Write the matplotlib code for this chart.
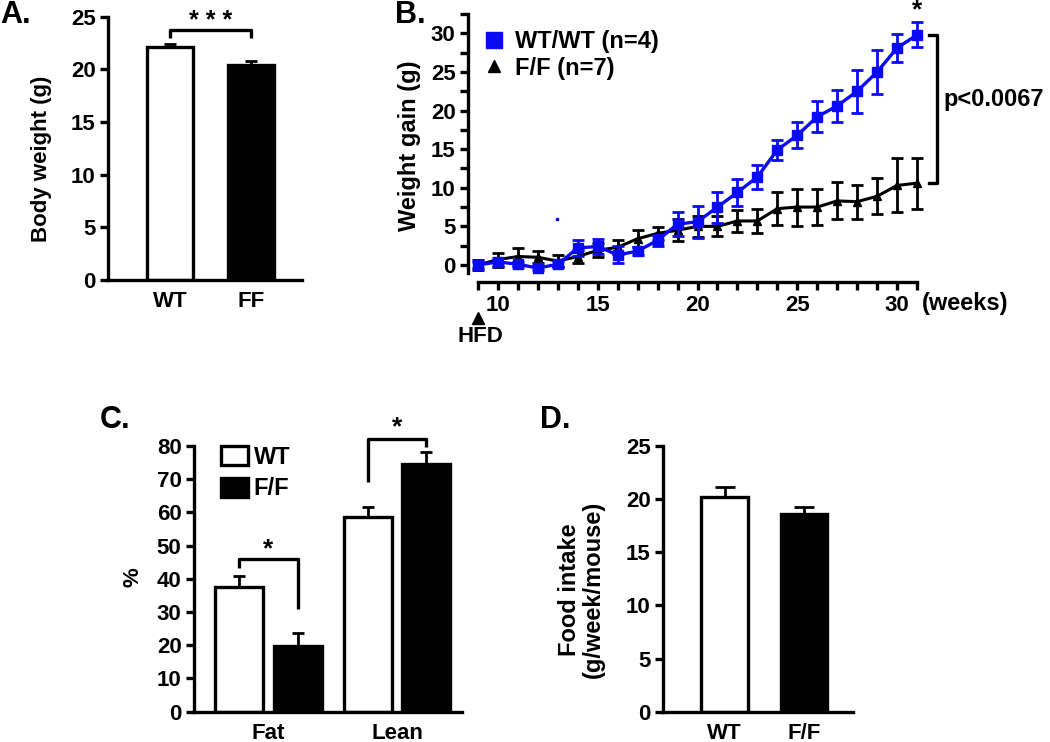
import numpy as np
import matplotlib
matplotlib.use("Agg")
import matplotlib.pyplot as plt
from matplotlib.lines import Line2D
from matplotlib.patches import Patch

plt.rcParams['font.family'] = ['Liberation Sans', 'DejaVu Sans']
plt.rcParams['font.weight'] = 'bold'
plt.rcParams['axes.labelweight'] = 'bold'

# ---- A: body weight ----
a_groups = ['WT', 'FF']
a_mean = [22.1, 20.4]
a_err = [0.3, 0.35]

# ---- B: weight gain over time ----
weeks = np.arange(9, 32)
wt_gain = [0.0, 0.4, 0.1, -0.4, 0.1, 2.2, 2.4, 1.3, 1.8, 3.2, 5.3, 5.6,
           7.5, 9.4, 11.4, 14.9, 16.8, 19.2, 20.6, 22.5, 25.0, 28.1, 29.8]
wt_gain_err = [0.4, 0.5, 0.3, 0.3, 0.4, 1.0, 1.0, 1.1, 0.5, 0.7, 1.6, 2.1,
               2.0, 1.7, 1.6, 1.25, 1.7, 2.0, 2.1, 2.8, 2.9, 1.8, 1.6]
ff_gain = [0.0, 0.7, 1.1, 1.0, 0.5, 1.1, 1.9, 2.3, 3.4, 4.1, 4.5, 5.0,
           5.0, 5.7, 5.7, 7.3, 7.5, 7.5, 8.3, 8.2, 8.9, 10.3, 10.6]
ff_gain_err = [0.6, 0.9, 1.1, 0.75, 0.75, 0.85, 0.9, 0.9, 1.1, 0.8, 1.4, 1.4,
               1.3, 1.4, 1.6, 2.1, 2.4, 2.3, 2.4, 2.2, 2.3, 3.5, 3.3]

# ---- C: body composition ----
c_cats = ['Fat', 'Lean']
c_wt = [37.5, 58.7]
c_wt_err = [3.4, 2.9]
c_ff = [19.8, 74.6]
c_ff_err = [4.0, 3.5]

# ---- D: food intake ----
d_groups = ['WT', 'F/F']
d_mean = [20.2, 18.6]
d_err = [0.9, 0.7]

W, H = 1050, 742
BLUE = '#0a0af5'
fig = plt.figure(figsize=(W / 100, H / 100), dpi=100)


def box(x0, y0, x1, y1):
    # pixel box -> figure fraction [left, bottom, width, height]
    return [x0 / W, 1 - y1 / H, (x1 - x0) / W, (y1 - y0) / H]


def style(ax, fs):
    for s in ['top', 'right']:
        ax.spines[s].set_visible(False)
    for s in ['left', 'bottom']:
        ax.spines[s].set_linewidth(2.4)
    ax.tick_params(axis='y', width=2.4, length=6, labelsize=fs, pad=3)
    for lab in ax.get_yticklabels() + ax.get_xticklabels():
        lab.set_fontweight('bold')


def bracket(ax, x0, x1, ytop, yl, yr, lw=2.4):
    ax.plot([x0, x0, x1, x1], [yl, ytop, ytop, yr], color='black', lw=lw,
            clip_on=False, solid_capstyle='butt')


# ---------------- Panel A ----------------
axA = fig.add_axes(box(108, 16.7, 302, 280))
xa = np.arange(len(a_groups))
axA.bar(xa, a_mean, width=0.56, color=['white', 'black'], edgecolor='black',
        linewidth=2.4, yerr=[[0, 0], a_err], capsize=4,
        error_kw=dict(elinewidth=2, capthick=2, ecolor='black'))
axA.set_xlim(-0.765, 1.63)
axA.set_ylim(0, 25)
axA.set_yticks(np.arange(0, 26, 5))
axA.set_xticks(xa, a_groups)
style(axA, 16)
axA.tick_params(axis='x', length=0, labelsize=16, pad=8)
axA.set_ylabel('Body weight (g)', fontsize=16)
axA.yaxis.set_label_coords(-0.29, 0.46)
bracket(axA, 0, 1, 23.7, 23.0, 23.0)
axA.text(0.5, 24.6, '* * *', ha='center', va='center', fontsize=18)

# ---------------- Panel B ----------------
axB = fig.add_axes(box(468, 14, 927, 281.6))
axB.errorbar(weeks, ff_gain, yerr=ff_gain_err, color='black', marker='^',
             ms=6, lw=2.2, elinewidth=2, capsize=4, capthick=2, zorder=3)
axB.errorbar(weeks, wt_gain, yerr=wt_gain_err, color=BLUE, marker='s',
             ms=7, lw=2.4, elinewidth=2, capsize=4, capthick=2, zorder=4)
axB.set_xlim(8.5, 31.5)
axB.set_ylim(-2.15, 32.5)
axB.spines['left'].set_bounds(-1.1, 32.5)
axB.spines['bottom'].set_bounds(9, 31)
axB.set_yticks(np.arange(0, 31, 5))
axB.set_yticks(np.arange(0, 32.6, 2.5), minor=True)
axB.set_xticks(np.arange(10, 31, 5))
axB.set_xticks(np.arange(9, 32, 1), minor=True)
style(axB, 16)
axB.tick_params(axis='y', which='minor', width=2.4, length=6)
axB.tick_params(axis='x', which='both', width=2.4, length=6, labelsize=16, pad=4)
for lab in axB.get_xticklabels():
    lab.set_fontweight('bold')
axB.set_ylabel('Weight gain (g)', fontsize=17)
axB.yaxis.set_label_coords(-0.103, 0.507)
axB.text(31.25, -5.0, '(weeks)', ha='left', va='center', fontsize=17,
         clip_on=False)
axB.plot([9], [-6.9], marker='^', color='black', ms=8, clip_on=False)
axB.text(9.1, -9.3, 'HFD', ha='center', va='center', fontsize=16,
         clip_on=False)
axB.plot([12.95], [5.9], marker='s', color=BLUE, ms=1.5)
# p value bracket
axB.plot([31.6, 32.0, 32.0, 31.6], [wt_gain[-1], wt_gain[-1], ff_gain[-1], ff_gain[-1]],
         color='black', lw=2.4, clip_on=False)
axB.text(32.35, 21.4, 'p<0.0067', ha='left', va='center', fontsize=17,
         clip_on=False)
axB.text(31, 31.4, '*', ha='center', va='bottom', fontsize=19, clip_on=False)
handles = [Line2D([], [], marker='s', ls='none', color=BLUE, ms=11),
           Line2D([], [], marker='^', ls='none', color='black', ms=9)]
axB.legend(handles, ['WT/WT (n=4)', 'F/F (n=7)'], loc='upper left',
           bbox_to_anchor=(0.03, 0.94), frameon=False,
           handlelength=1.0, handletextpad=0.4, labelspacing=0.15,
           borderpad=0, borderaxespad=0, prop=dict(weight='bold', size=17))

# ---------------- Panel C ----------------
axC = fig.add_axes(box(194, 446, 462, 711.7))
group_x = np.array([0.5, 2.7])
axC.bar(group_x - 0.5, c_wt, width=0.82, color='white', edgecolor='black',
        linewidth=2.4, yerr=[[0, 0], c_wt_err], capsize=4,
        error_kw=dict(elinewidth=2, capthick=2, ecolor='black'), label='WT')
axC.bar(group_x + 0.5, c_ff, width=0.82, color='black', edgecolor='black',
        linewidth=2.4, yerr=[[0, 0], c_ff_err], capsize=4,
        error_kw=dict(elinewidth=2, capthick=2, ecolor='black'), label='F/F')
axC.set_xlim(-0.77, 3.81)
axC.set_ylim(0, 80)
axC.set_yticks(np.arange(0, 81, 10))
axC.set_xticks(group_x, c_cats)
style(axC, 16)
axC.tick_params(axis='x', length=0, labelsize=16, pad=8)
axC.set_ylabel('%', fontsize=16)
axC.yaxis.set_label_coords(-0.19, 0.507)
bracket(axC, 0, 1, 45.9, 43.3, 30.8)
axC.text(0.5, 49.0, '*', ha='center', va='center', fontsize=19)
bracket(axC, 2.2, 3.2, 82.0, 69.3, 79.6)
axC.text(2.7, 85.5, '*', ha='center', va='center', fontsize=19, clip_on=False)
lh = [Patch(facecolor='white', edgecolor='black', linewidth=2.4),
      Patch(facecolor='black', edgecolor='black', linewidth=2.4)]
axC.legend(lh, ['WT', 'F/F'], loc='upper left', bbox_to_anchor=(0.1, 1.0),
           frameon=False, handlelength=1.15, handleheight=0.85,
           handletextpad=0.25, labelspacing=0.35, borderpad=0,
           borderaxespad=0, prop=dict(weight='bold', size=17))

# ---------------- Panel D ----------------
axD = fig.add_axes(box(663.3, 446, 853, 711.7))
xd = np.arange(len(d_groups))
axD.bar(xd, d_mean, width=0.59, color=['white', 'black'], edgecolor='black',
        linewidth=2.4, yerr=[[0, 0], d_err], capsize=7,
        error_kw=dict(elinewidth=2, capthick=2, ecolor='black'))
axD.set_xlim(-0.77, 1.616)
axD.set_ylim(0, 25)
axD.set_yticks(np.arange(0, 26, 5))
axD.set_xticks(xd, d_groups)
style(axD, 16)
axD.tick_params(axis='x', length=0, labelsize=16, pad=8)
axD.set_ylabel('Food intake\n(g/week/mouse)', fontsize=17, linespacing=1.05)
axD.yaxis.set_label_coords(-0.31, 0.46)

# panel letters
for lab, (px, py) in zip(['A.', 'B.', 'C.', 'D.'],
                         [(0, 15), (395, 15), (100, 420), (540, 420)]):
    fig.text(px / W, 1 - py / H, lab, fontsize=22, fontweight='bold',
             ha='left', va='center')

fig.savefig('out.png', dpi=100)
